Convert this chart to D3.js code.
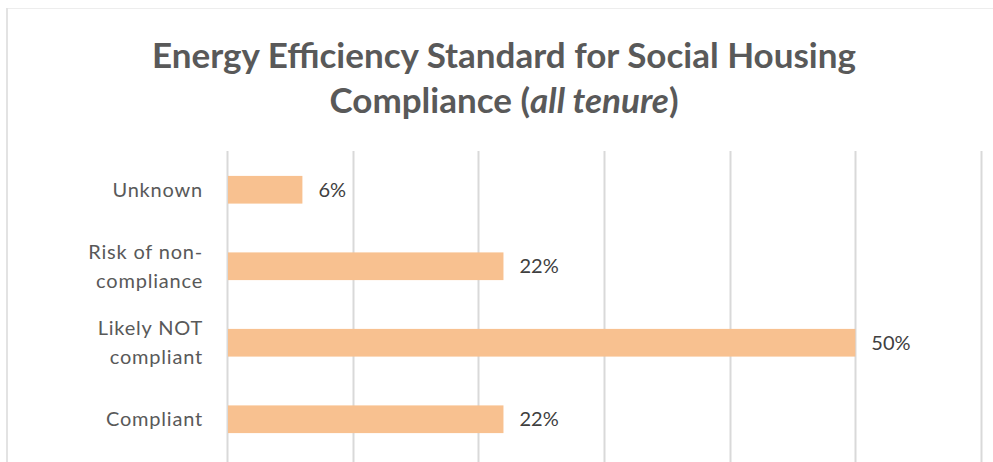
<!DOCTYPE html>
<html lang="en">
<head>
<meta charset="UTF-8">
<title>EESSH compliance</title>
<script src="https://cdn.jsdelivr.net/npm/d3@7"></script>
<style>
  body { margin: 0; background: #fff; }
  svg text { font-family: Lato, "Open Sans", sans-serif; }
</style>
</head>
<body>
<div id="container"><svg></svg></div>
<script>
  // categories top to bottom, each label split into lines
  const categories = ["Unknown", "Risk of non-compliance", "Likely NOT compliant", "Compliant"]
  const labelLines = [["Unknown"], ["Risk of non-", "compliance"], ["Likely NOT", "compliant"], ["Compliant"]]
  const shares = [0.06, 0.22, 0.50, 0.22]
  const gridTicks = [0, 0.1, 0.2, 0.3, 0.4, 0.5, 0.6]

  const width = 993
  const height = 462

  const svg = d3.select('svg')
    .attr('width', width)
    .attr('height', height)

  // chart frame (only top and left edges are in view)
  svg.append('line')
    .attr('x1', 7).attr('x2', width).attr('y1', 8.5).attr('y2', 8.5)
    .attr('stroke', '#ededed').attr('stroke-width', 1)
  svg.append('line')
    .attr('x1', 7).attr('x2', 7).attr('y1', 8).attr('y2', height)
    .attr('stroke', '#e3e3e3').attr('stroke-width', 2)

  // title
  const title = svg.append('text')
    .attr('text-anchor', 'middle')
    .attr('fill', '#595959')
    .style('font-weight', 'bold')
    .style('font-size', '35px')
  title.append('tspan')
    .attr('x', 504).attr('y', 68)
    .text('Energy Efficiency Standard for Social Housing')
  const line2 = title.append('tspan')
    .attr('x', 504).attr('y', 113)
  line2.append('tspan').text('Compliance (')
  line2.append('tspan').style('font-style', 'italic').text('all tenure')
  line2.append('tspan').text(')')

  const x = d3.scaleLinear()
    .domain([0, 0.6])
    .range([227, 981])

  const y = d3.scaleBand()
    .domain(categories)
    .range([151.5, 457.5])
    .paddingInner(0.638)
    .paddingOuter(0.319)

  // vertical gridlines
  svg.append('g')
    .selectAll('line')
    .data(gridTicks)
    .join('line')
    .attr('x1', d => Math.round(x(d)) + 0.5)
    .attr('x2', d => Math.round(x(d)) + 0.5)
    .attr('y1', 151)
    .attr('y2', height)
    .attr('stroke', '#d9d9d9')
    .attr('stroke-width', 2)

  // bars
  svg.append('g')
    .selectAll('rect')
    .data(shares)
    .join('rect')
    .attr('x', x(0) + 1)
    .attr('y', (d, i) => y(categories[i]))
    .attr('width', d => x(d) - x(0) - 1)
    .attr('height', y.bandwidth())
    .attr('fill', '#f8c190')

  // value labels
  svg.append('g')
    .selectAll('text')
    .data(shares)
    .join('text')
    .attr('x', d => x(d) + 16)
    .attr('y', (d, i) => y(categories[i]) + y.bandwidth() / 2)
    .attr('dy', '0.36em')
    .attr('fill', '#404040')
    .style('font-size', '20px')
    .text(d => d3.format('.0%')(d))

  // category labels, right aligned against the axis
  const lineH = 29
  const labels = svg.append('g')
    .selectAll('text')
    .data(labelLines)
    .join('text')
    .attr('text-anchor', 'end')
    .attr('fill', '#595959')
    .style('font-size', '20px')
    .style('letter-spacing', '0.8px')
    .attr('transform', (d, i) => `translate(203,${y(categories[i]) + y.bandwidth() / 2})`)

  labels.selectAll('tspan')
    .data(d => d.map((t, j) => ({ t, j, n: d.length })))
    .join('tspan')
    .attr('x', 0)
    .attr('y', d => (d.j - (d.n - 1) / 2) * lineH)
    .attr('dy', '0.36em')
    .text(d => d.t)
</script>
</body>
</html>
